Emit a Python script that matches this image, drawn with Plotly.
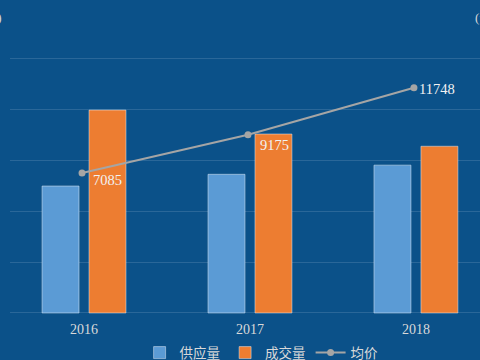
import plotly.graph_objects as go

years = ["2016", "2017", "2018"]
supply = [249, 272, 290]
deals = [398, 351, 327]
avg_price = [7085, 9175, 11748]
label_shift = [(9, -7), (10, -10), (3, -1)]

BG = "#0B5189"
SERIF = "Liberation Serif, Times New Roman, Noto Sans CJK SC, serif"
xpos = [0, 1, 2]
line_x = [-0.012, 0.988, 1.988]

fig = go.Figure()
fig.add_trace(go.Bar(x=xpos, y=supply, name="供应量", marker=dict(color="#5B9BD5"), yaxis="y"))
fig.add_trace(go.Bar(x=xpos, y=deals, name="成交量", marker=dict(color="#ED7D31"), yaxis="y"))
fig.add_trace(go.Scatter(
    x=line_x, y=avg_price, name="均价", yaxis="y2", mode="lines+markers",
    line=dict(color="#A5A5A5", width=2), marker=dict(color="#A5A5A5", size=7)))

annotations = [
    dict(text=str(v), x=xv, y=v, xref="x", yref="y2", xanchor="left", yanchor="middle",
         xshift=dx, yshift=dy, showarrow=False,
         font=dict(family=SERIF, size=14.5, color="#F2F2F2"))
    for xv, v, (dx, dy) in zip(line_x, avg_price, label_shift)
]
annotations += [
    dict(text="(万平方米)", xref="paper", yref="paper", x=-0.013, y=1.145, xanchor="right",
         yanchor="middle", showarrow=False, font=dict(family=SERIF, size=13, color="#D9D9D9")),
    dict(text="(元/平方米)", xref="paper", yref="paper", x=0.985, y=1.145, xanchor="left",
         yanchor="middle", showarrow=False, font=dict(family=SERIF, size=13, color="#D9D9D9")),
]

fig.update_layout(
    width=480, height=360,
    margin=dict(l=10, r=0, t=55, b=46, autoexpand=False),
    paper_bgcolor=BG, plot_bgcolor=BG,
    barmode="group", bargap=0.434, bargroupgap=0.213,
    showlegend=True,
    legend=dict(orientation="h", xref="container", yref="container",
                x=0.545, xanchor="center", y=0.063, yanchor="top",
                font=dict(family=SERIF, size=13.5, color="#D9D9D9"),
                bgcolor="rgba(0,0,0,0)", itemwidth=30, tracegroupgap=0),
    xaxis=dict(range=[-0.446, 2.386], tickvals=xpos, ticktext=years,
               showgrid=False, zeroline=False, showline=False, ticks="",
               ticklabelstandoff=5,
               tickfont=dict(family=SERIF, size=14, color="#D9D9D9")),
    yaxis=dict(range=[-2, 506], tickvals=[0, 100, 200, 300, 400, 500], showgrid=True,
               gridcolor="#2A6799", gridwidth=1,
               zeroline=False, showticklabels=False, showline=False),
    yaxis2=dict(range=[-618, 13535], overlaying="y", side="right", showgrid=False,
                zeroline=False, showticklabels=False, showline=False),
    annotations=annotations,
)

fig.write_html("out.html", config={"displayModeBar": False},
               post_script="document.body.style.margin='0';document.body.style.overflow='hidden';")
